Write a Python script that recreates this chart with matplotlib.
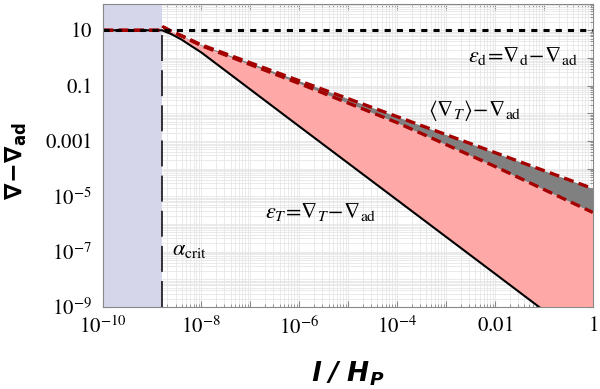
import numpy as np
import matplotlib
matplotlib.use('Agg')
import matplotlib.pyplot as plt
from matplotlib.ticker import FixedLocator, NullFormatter

plt.rcParams['mathtext.fontset'] = 'stix'
plt.rcParams['font.family'] = ['Liberation Serif', 'DejaVu Serif']

# dados
l_hp = [1e-10, 1.6e-9, 1.7e-9, 2.5e-9, 4e-9, 6.3e-9, 1e-8, 1e-6, 1e-4, 1e-2, 1.0]
eps_T = [10, 10, 9.5, 7.2, 4.6, 2.7, 1.6, 3.4e-3, 7.4e-6, 1.6e-8, 3.4e-11]
grad_T_low = [10, 10, 13, 9.0, 6.2, 4.2, 2.8, 0.12, 4.6e-3, 1.2e-4, 2.6e-6]
grad_T_up = [10, 10, 13, 9.1, 6.4, 4.4, 3.0, 0.151, 7.6e-3, 3.8e-4, 1.9e-5]
eps_d = 10
alpha_crit = 1.6e-9

xticks = [1e-10, 1e-8, 1e-6, 1e-4, 1e-2, 1]
xlabels = [r'$10^{-10}$', r'$10^{-8}$', r'$10^{-6}$', r'$10^{-4}$', r'$0.01$', r'$1$']
yticks = [1e-9, 1e-7, 1e-5, 1e-3, 1e-1, 10]
ylabels = [r'$10^{-9}$', r'$10^{-7}$', r'$10^{-5}$', r'$0.001$', r'$0.1$', r'$10$']

fig = plt.figure(figsize=(6, 3.89), dpi=100)
ax = fig.add_axes([0.172, 0.211, 0.816, 0.779])
ax.set_xscale('log')
ax.set_yscale('log')
ax.set_xlim(1e-10, 1)
ax.set_ylim(1e-9, 90)

# regiao abaixo de alpha_crit
ax.axvspan(1e-10, alpha_crit, color='#d6d6ea', zorder=1, lw=0)

l = np.array(l_hp)
ax.fill_between(l, eps_T, grad_T_low, where=l >= alpha_crit, color='#ffa8a8', lw=0, zorder=1)
ax.fill_between(l, grad_T_low, grad_T_up, where=l >= alpha_crit, color='#808080', lw=0, zorder=1)

ax.plot(l, eps_T, color='black', lw=1.5, zorder=3)
ax.plot(l, grad_T_low, color='#a50000', lw=2.4, dashes=(3, 1.6), zorder=4)
ax.plot(l, grad_T_up, color='#a50000', lw=2.4, dashes=(3, 1.6), zorder=4)
ax.axhline(eps_d, color='black', lw=2.2, dashes=(2, 2), zorder=5)
ax.plot([alpha_crit, alpha_crit], [1e-9, eps_d], color='black', lw=1.1, dashes=(17, 6), zorder=5)

# grade
ax.xaxis.set_minor_locator(FixedLocator([m * 10.0**k for k in range(-10, 0) for m in range(2, 10)]))
ax.yaxis.set_minor_locator(FixedLocator([m * 10.0**k for k in range(-9, 2) for m in range(2, 10)]))
ax.xaxis.set_minor_formatter(NullFormatter())
ax.yaxis.set_minor_formatter(NullFormatter())
ax.set_xticks([10.0**k for k in range(-10, 1)],
              [xlabels[xticks.index(10.0**k)] if 10.0**k in xticks else '' for k in range(-10, 1)])
ax.set_yticks([10.0**k for k in range(-9, 2)],
              [ylabels[yticks.index(10.0**k)] if 10.0**k in yticks else '' for k in range(-9, 2)])
ax.grid(True, which='both', color='#e6e6e6', lw=0.6, zorder=0)
ax.set_axisbelow(True)
ax.tick_params(which='both', direction='in', top=True, right=True, color='#888888', labelsize=15)
ax.tick_params(which='major', length=4)
ax.tick_params(which='minor', length=2)
ax.tick_params(axis='x', pad=7)
ax.tick_params(axis='y', pad=8)
for s in ax.spines.values():
    s.set_color('#888888')
    s.set_zorder(6)

# textos
ax.text(0.5, 1.2, r'$\varepsilon_{\rm d}\!=\!\nabla_{\rm d}\!-\!\nabla_{\rm ad}$', fontsize=16, ha='right', va='center')
ax.text(4.3e-4, 0.013, r'$\langle\nabla_T\rangle\!-\!\nabla_{\rm ad}$', fontsize=16, ha='left', va='center')
ax.text(2e-7, 2.7e-6, r'$\varepsilon_T\!=\!\nabla_T\!-\!\nabla_{\rm ad}$', fontsize=16, ha='left', va='center')
ax.text(2.5e-9, 1.1e-7, r'$\alpha_{\rm crit}$', fontsize=16, ha='left', va='center')

# rotulos dos eixos
fig.text(0.58, 0.04, r'$\mathbfit{l\ /\ H_P}$', fontsize=19, math_fontfamily='dejavusans',
         ha='center', va='center')
fig.text(0.027, 0.585, r'$\mathbf{\nabla\!-\!\nabla_{ad}}$', fontsize=17, math_fontfamily='dejavusans',
         ha='center', va='center', rotation=90)

fig.savefig('out.png', dpi=100)
